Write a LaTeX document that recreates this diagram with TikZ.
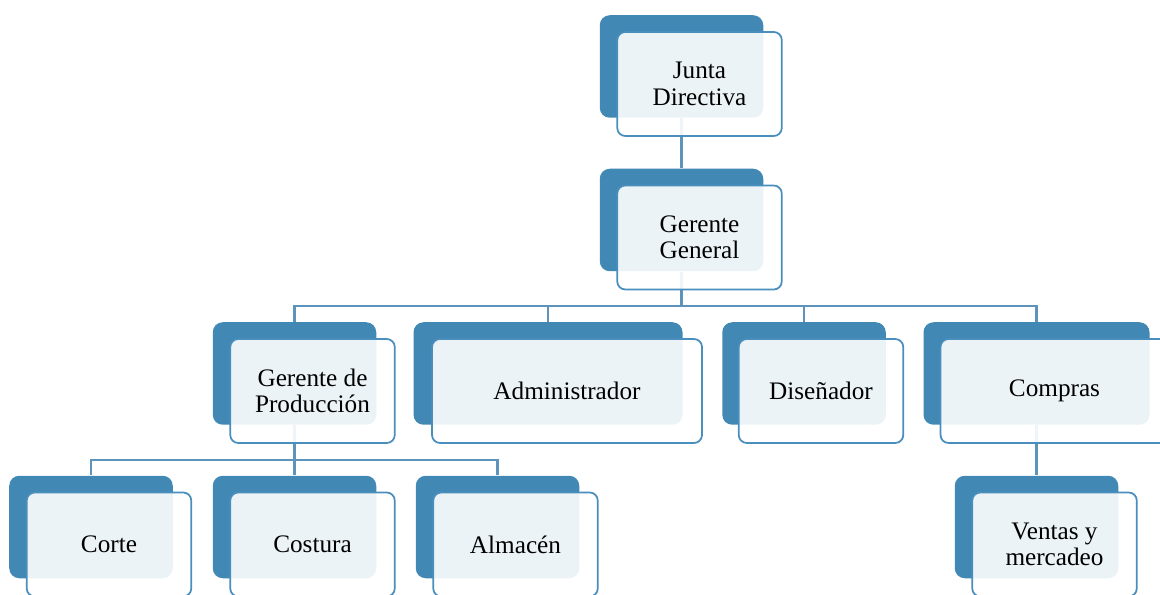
\documentclass[tikz,border=0pt]{standalone}
\usepackage{fontspec}
\setmainfont{Liberation Serif}
\usepackage{tikz}
\usetikzlibrary{shapes.geometric, arrows}
\definecolor{boxblue}{HTML}{4189B4}
\definecolor{edgeblue}{HTML}{4A8EBD}
\definecolor{lineblue}{HTML}{5E93BC}
\pgfdeclarelayer{bg}
\pgfsetlayers{bg,main}
\tikzstyle{back} = [rectangle, rounded corners=0.2cm, minimum width=3.27cm, minimum height=2.05cm, inner sep=0pt, fill=boxblue]
\tikzstyle{front} = [rectangle, rounded corners=0.16cm, minimum width=3.29cm, minimum height=2.08cm, draw=edgeblue, line width=1pt, fill=white, fill opacity=0.9, text opacity=1, align=center, font=\fontsize{14.35pt}{15pt}\selectfont]
\tikzstyle{line} = [draw=lineblue, line width=1.2pt]

\begin{document}
\begin{tikzpicture}[node distance=3.07cm]
\useasboundingbox (0,0) rectangle (23.2,-11.9);
\node (junta) [back] at (13.63,-1.33) {};
\node (juntaT) [front] at ([shift={(0.36,-0.35)}]junta) {Junta\\Directiva};
\node (gerente) [back, below of=junta] {};
\node (gerenteT) [front] at ([shift={(0.36,-0.35)}]gerente) {Gerente\\General};
\node (prod) [back, below of=gerente, xshift=-7.74cm] {};
\node (prodT) [front] at ([shift={(0.36,-0.35)}]prod) {Gerente de\\Producción};
\node (admin) [back, below of=gerente, xshift=-2.67cm, minimum width=5.38cm] {};
\node (adminT) [front, minimum width=5.4cm] at ([shift={(0.38,-0.35)}]admin) {Administrador};
\node (disen) [back, below of=gerente, xshift=2.45cm] {};
\node (disenT) [front] at ([shift={(0.34,-0.35)}]disen) {Diseñador};
\node (compras) [back, below of=gerente, xshift=7.10cm, minimum width=4.52cm] {};
\node (comprasT) [front, minimum width=4.56cm] at ([shift={(0.36,-0.35)}]compras) {Compras};
\node (corte) [back, below of=prod, xshift=-4.07cm] {};
\node (corteT) [front] at ([shift={(0.36,-0.35)}]corte) {Corte};
\node (costura) [back, below of=prod] {};
\node (costuraT) [front] at ([shift={(0.36,-0.35)}]costura) {Costura};
\node (almacen) [back, below of=prod, xshift=4.06cm] {};
\node (almacenT) [front] at ([shift={(0.36,-0.35)}]almacen) {Almacén};
\node (ventas) [back, below of=compras] {};
\node (ventasT) [front] at ([shift={(0.36,-0.35)}]ventas) {Ventas y\\mercadeo};
\begin{pgfonlayer}{bg}
\draw [line] (junta.south) -- (gerente.north);
\draw [line] (gerente.south) -- ++(0,-0.68) -| (prod.north);
\draw [line] (gerente.south) -- ++(0,-0.68) -| (admin.north);
\draw [line] (gerente.south) -- ++(0,-0.68) -| (disen.north);
\draw [line] (gerente.south) -- ++(0,-0.68) -| (compras.north);
\draw [line] (prod.south) -- ++(0,-0.7) -| (corte.north);
\draw [line] (prod.south) -- ++(0,-0.7) -| (costura.north);
\draw [line] (prod.south) -- ++(0,-0.7) -| (almacen.north);
\draw [line] (compras.south) -- (ventas.north);
\end{pgfonlayer}
\end{tikzpicture}
\end{document}
